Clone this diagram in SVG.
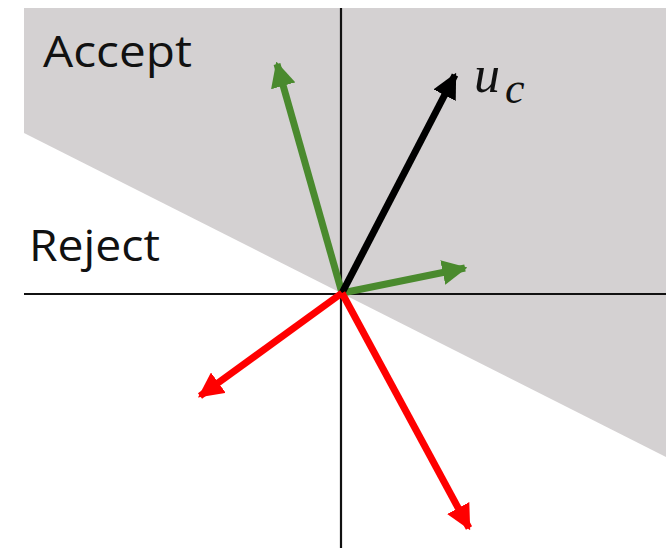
<svg xmlns="http://www.w3.org/2000/svg" width="666" height="548" viewBox="0 0 666 548">
<style>
.lbl{font-family:"Open Sans","Liberation Sans",sans-serif;font-size:44px;fill:#111}
.math{font-family:"Liberation Serif",serif;font-style:italic;fill:#111}
.axis{stroke:#111;stroke-width:2.2;fill:none}
.vec{stroke-width:7;fill:none}
</style>
<defs>
<marker id="hg" viewBox="0 0 10 10" refX="9" refY="5" markerWidth="3.6" markerHeight="3.6" orient="auto" markerUnits="strokeWidth"><path d="M0,0 L10,5 L0,10 z" fill="#4a8a2e"/></marker>
<marker id="hk" viewBox="0 0 10 10" refX="9" refY="5" markerWidth="3.6" markerHeight="3.6" orient="auto" markerUnits="strokeWidth"><path d="M0,0 L10,5 L0,10 z" fill="#000"/></marker>
<marker id="hr" viewBox="0 0 10 10" refX="9" refY="5" markerWidth="3.6" markerHeight="3.6" orient="auto" markerUnits="strokeWidth"><path d="M0,0 L10,5 L0,10 z" fill="#ff0000"/></marker>
</defs>
<rect width="666" height="548" fill="#fff"/>
<g id="accept-region">
<polygon points="24,8 666,8 666,457 24,133" fill="#d4d1d2"/>
</g>
<g id="axes">
<line class="axis" x1="24" y1="294" x2="666" y2="294"/>
<line class="axis" x1="341" y1="8" x2="341" y2="548"/>
</g>
<g id="labels">
<text class="lbl" x="43" y="67" textLength="149" lengthAdjust="spacingAndGlyphs">Accept</text>
<text class="lbl" x="29" y="261" textLength="131" lengthAdjust="spacingAndGlyphs">Reject</text>
<text class="math" x="474" y="92" font-size="52">u</text>
<text class="math" x="505" y="103" font-size="44">c</text>
</g>
<g id="connectors">
<line class="vec" x1="342" y1="293" x2="277" y2="64" stroke="#4a8a2e" marker-end="url(#hg)"/>
<line class="vec" x1="342" y1="293" x2="465" y2="268" stroke="#4a8a2e" marker-end="url(#hg)"/>
<line class="vec" x1="342" y1="293" x2="455" y2="75" stroke="#000" marker-end="url(#hk)"/>
<line class="vec" x1="342" y1="293" x2="200" y2="396" stroke="#ff0000" marker-end="url(#hr)"/>
<line class="vec" x1="342" y1="293" x2="469" y2="528" stroke="#ff0000" marker-end="url(#hr)"/>
</g>
</svg>
